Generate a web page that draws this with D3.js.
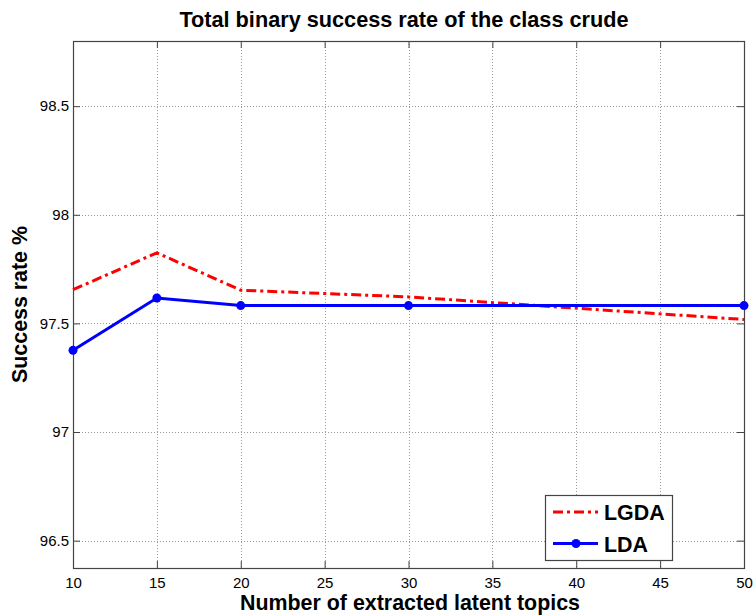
<!DOCTYPE html>
<html lang='en'>

<head>
   <meta charset='UTF-8'>
   <style>
      body {
         margin: 0;
         background: #fff;
      }

      svg {
         display: block;
         font-family: 'Liberation Sans', Arial, sans-serif;
      }

      .tick text {
         font-size: 15px;
         fill: #000;
      }
   </style>
   <script src='https://cdnjs.cloudflare.com/ajax/libs/d3/7.8.5/d3.min.js'></script>
   <title>Total binary success rate</title>
</head>

<body>
   <svg id='chart'></svg>

   <script>
      'use strict'

      // values
      const topics = [10, 15, 20, 30, 50]
      const lgda = [97.655, 97.825, 97.653, 97.622, 97.518]
      const lda = [97.376, 97.617, 97.582, 97.582, 97.582]
      const xTicks = [10, 15, 20, 25, 30, 35, 40, 45, 50]
      const yTicks = [96.5, 97, 97.5, 98, 98.5]
      const seriesNames = ['LGDA', 'LDA']

      const width = 754,
         height = 616
      const plotLeft = 73,
         plotRight = 744,
         plotTop = 41,
         plotBottom = 568

      const svg = d3.select('svg')
         .attr('width', width)
         .attr('height', height)

      const x = d3.scaleLinear([10, 50], [plotLeft, plotRight])
      const y = d3.scaleLinear([96.374, 98.8], [plotBottom, plotTop])

      // grid
      const grid = svg.append('g')
         .attr('stroke', '#999')
         .attr('stroke-width', 1)
         .attr('stroke-dasharray', '1,2')
      grid.selectAll('.vg')
         .data(xTicks.slice(1, -1))
         .enter().append('line')
         .attr('x1', d => Math.round(x(d)) + 0.5)
         .attr('x2', d => Math.round(x(d)) + 0.5)
         .attr('y1', plotTop)
         .attr('y2', plotBottom)
      grid.selectAll('.hg')
         .data(yTicks)
         .enter().append('line')
         .attr('y1', d => Math.round(y(d)) + 0.5)
         .attr('y2', d => Math.round(y(d)) + 0.5)
         .attr('x1', plotLeft)
         .attr('x2', plotRight)

      // axes, ticks inward
      const tickLen = 7
      svg.append('g')
         .attr('transform', `translate(0,${plotBottom})`)
         .call(d3.axisBottom(x).tickValues(xTicks).tickSize(-tickLen).tickPadding(9).tickSizeOuter(0))
      svg.append('g')
         .attr('transform', `translate(${plotLeft},0)`)
         .call(d3.axisLeft(y).tickValues(yTicks).tickSize(-tickLen).tickPadding(4)
            .tickFormat(d3.format('')).tickSizeOuter(0))
      svg.append('g')
         .attr('transform', `translate(0,${plotTop})`)
         .call(d3.axisTop(x).tickValues(xTicks).tickSize(-tickLen).tickFormat('').tickSizeOuter(0))
      svg.append('g')
         .attr('transform', `translate(${plotRight},0)`)
         .call(d3.axisRight(y).tickValues(yTicks).tickSize(-tickLen).tickFormat('').tickSizeOuter(0))
      svg.selectAll('.domain').remove()
      svg.selectAll('.tick line').attr('stroke', '#444')

      svg.append('rect')
         .attr('x', plotLeft + 0.5)
         .attr('y', plotTop + 0.5)
         .attr('width', plotRight - plotLeft)
         .attr('height', plotBottom - plotTop)
         .attr('fill', 'none')
         .attr('stroke', '#444')
         .attr('stroke-width', 1.2)

      // lines
      const line = d3.line()
         .x((d, i) => x(topics[i]))
         .y(d => y(d))

      svg.append('path')
         .datum(lgda)
         .attr('d', line)
         .attr('fill', 'none')
         .attr('stroke', '#f00')
         .attr('stroke-width', 3)
         .attr('stroke-dasharray', '10,4,3,4')

      svg.append('path')
         .datum(lda)
         .attr('d', line)
         .attr('fill', 'none')
         .attr('stroke', '#00f')
         .attr('stroke-width', 3)

      svg.selectAll('.dot')
         .data(lda)
         .enter().append('circle')
         .attr('cx', (d, i) => x(topics[i]))
         .attr('cy', d => y(d))
         .attr('r', 4.5)
         .attr('fill', '#00f')

      // title and labels
      svg.append('text')
         .attr('x', 404)
         .attr('y', 27)
         .attr('text-anchor', 'middle')
         .attr('font-weight', 'bold')
         .attr('font-size', 21.7)
         .text('Total binary success rate of the class crude')

      svg.append('text')
         .attr('x', 410)
         .attr('y', 610)
         .attr('text-anchor', 'middle')
         .attr('font-weight', 'bold')
         .attr('font-size', 21.4)
         .text('Number of extracted latent topics')

      svg.append('text')
         .attr('transform', `translate(27,${(plotTop + plotBottom) / 2}) rotate(-90)`)
         .attr('text-anchor', 'middle')
         .attr('font-weight', 'bold')
         .attr('font-size', 21.4)
         .text('Success rate %')

      // legend
      const legend = svg.append('g')
      legend.append('rect')
         .attr('x', 545.5)
         .attr('y', 495.5)
         .attr('width', 127)
         .attr('height', 65)
         .attr('fill', '#fff')
         .attr('stroke', '#444')
         .attr('stroke-width', 1.2)

      const items = legend.selectAll('.item')
         .data(seriesNames)
         .enter().append('g')
         .attr('transform', (d, i) => `translate(0,${512 + i * 31.5})`)
      items.append('line')
         .attr('x1', 553)
         .attr('x2', 598)
         .attr('stroke', (d, i) => i === 0 ? '#f00' : '#00f')
         .attr('stroke-width', 3)
         .attr('stroke-dasharray', (d, i) => i === 0 ? '10,4,3,4' : null)
      items.filter((d, i) => i === 1).append('circle')
         .attr('cx', 576)
         .attr('r', 4.5)
         .attr('fill', '#00f')
      items.append('text')
         .attr('x', 604)
         .attr('y', 8)
         .attr('font-weight', 'bold')
         .attr('font-size', 21.4)
         .text(d => d)
   </script>
</body>

</html>
